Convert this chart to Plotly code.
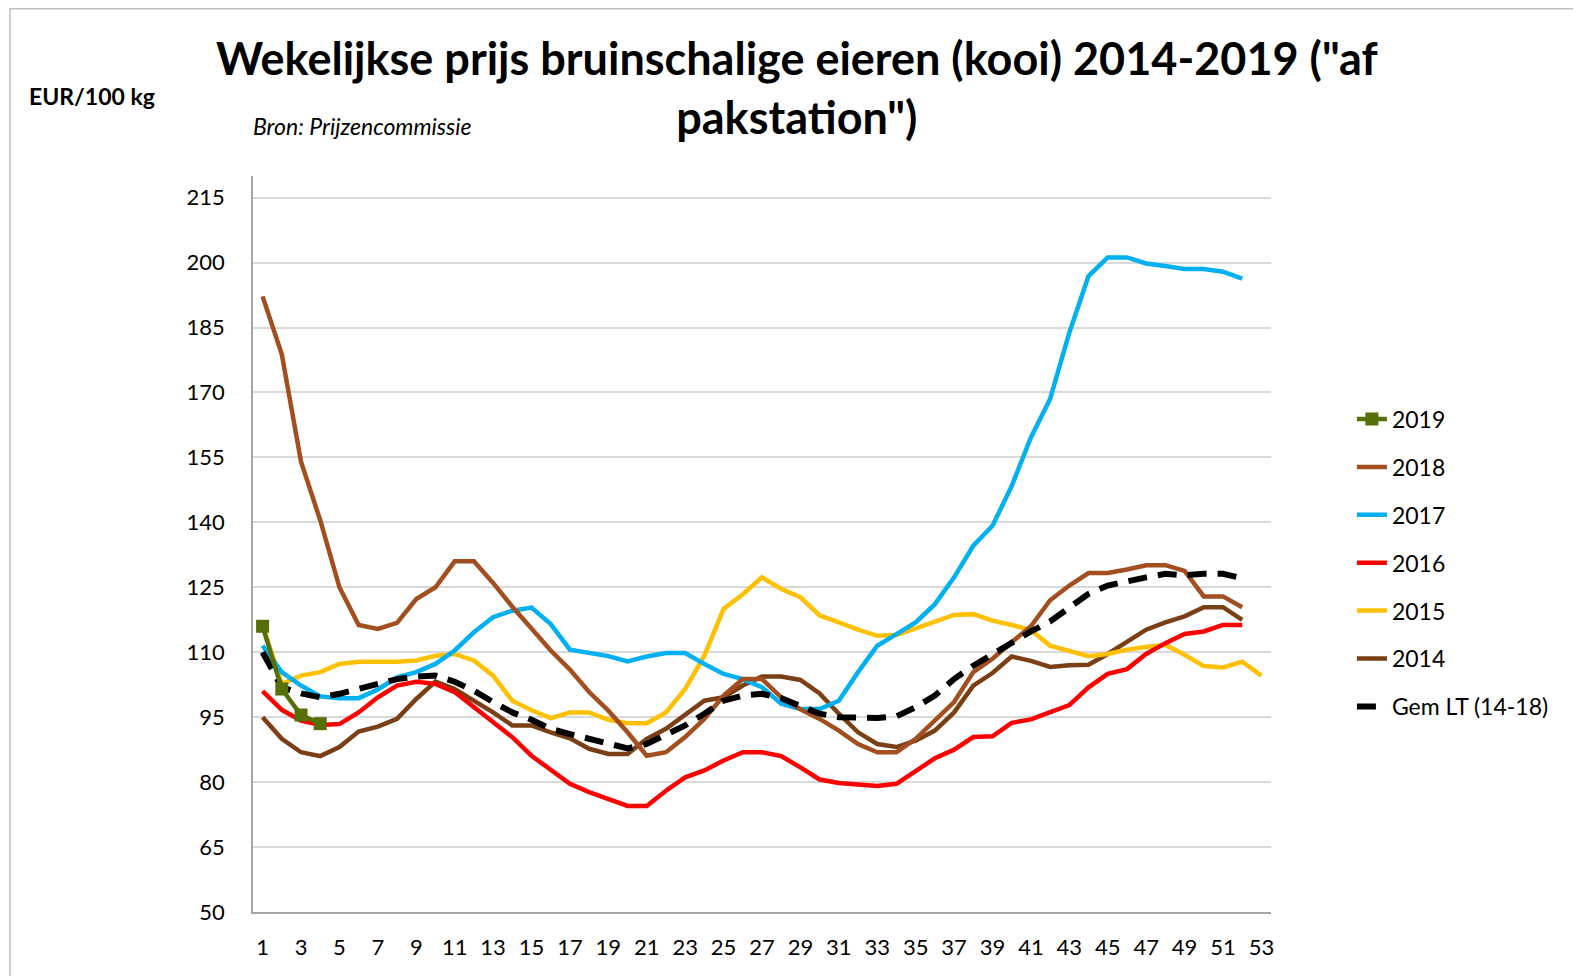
import plotly.graph_objects as go

weeks52 = list(range(1, 53))
weeks53 = list(range(1, 54))
weeks19 = [1, 2, 3, 4]

y2014 = [95, 90, 86.9, 86, 88.1, 91.7, 92.8, 94.6, 99.2, 103.2,
         101.5, 98.8, 96.1, 93.1, 93.1, 91.5, 90.1, 87.7, 86.5, 86.5,
         90, 92.3, 95.4, 98.8, 99.6, 102.3, 104.4, 104.4, 103.6, 100.5,
         95.8, 91.5, 88.8, 88.1, 89.6, 91.9, 96.1, 102.3, 105.2, 109,
         108, 106.6, 107, 107.1, 109.6, 112.3, 115.2, 116.9, 118.3, 120.4,
         120.4, 117.5]
y2015 = [116.3, 102.7, 104.6, 105.4, 107.3, 107.8, 107.8, 107.8, 108.1, 109.2,
         109.6, 108.1, 104.6, 98.8, 96.6, 94.8, 96.1, 96.1, 94.4, 93.6,
         93.6, 96.1, 101.5, 109.2, 120, 123.4, 127.3, 124.6, 122.7, 118.5,
         116.9, 115.2, 113.8, 114, 115.5, 117, 118.6, 118.8, 117.3, 116.3,
         115.1, 111.5, 110.4, 109.1, 109.6, 110.6, 111.2, 111.7, 109.4, 106.8,
         106.5, 107.8, 104.6]
y2016 = [101, 96.7, 94.2, 93.2, 93.4, 96.1, 99.6, 102.3, 103.2, 102.7,
         100.8, 97.3, 94, 90.4, 86.1, 83, 79.6, 77.7, 76, 74.5,
         74.5, 78, 81.1, 82.7, 85, 86.9, 86.9, 86, 83.4, 80.6,
         79.8, 79.4, 79.1, 79.6, 82.7, 85.5, 87.5, 90.4, 90.6, 93.7,
         94.5, 96.2, 97.8, 101.9, 105, 106.1, 109.6, 112.1, 114.2, 114.8,
         116.3, 116.3]
y2017 = [111.5, 105.4, 102.3, 99.8, 99.4, 99.4, 101.4, 104.2, 105.4, 107.3,
         110.4, 114.6, 118.1, 119.6, 120.3, 116.5, 110.6, 109.8, 109.1, 107.9,
         109, 109.8, 109.8, 107.3, 105, 103.8, 101.9, 98.1, 96.9, 96.9,
         98.8, 105.4, 111.5, 114.2, 116.9, 121.1, 127.3, 134.6, 139.2, 148.4,
         159.6, 168.5, 183.8, 196.9, 201.2, 201.2, 199.8, 199.2, 198.5, 198.5,
         197.9, 196.3]
y2018 = [192.2, 178.8, 154, 140.5, 125, 116.3, 115.4, 116.8, 122.3, 125,
         131, 131, 126, 120.5, 115.5, 110.4, 106, 100.8, 96.5, 91.5,
         86.1, 86.9, 90.4, 94.6, 100, 103.8, 103.8, 99.6, 96.8, 94.6,
         91.9, 88.8, 86.9, 86.9, 90, 94.2, 98.5, 105.4, 108.5, 112.3,
         116, 122, 125.4, 128.3, 128.3, 129.1, 130.1, 130.1, 128.8, 122.9,
         122.9, 120.4]
y2019 = [116, 101.5, 95.5, 93.5]
ygem = [110, 101.9, 100.5, 99.6, 100.4, 101.5, 102.7, 103.8, 104.4, 104.6,
        103.2, 101.1, 98.5, 96.1, 94.4, 92.3, 91.1, 90, 88.8, 87.8,
        88.8, 90.8, 93.1, 95.8, 98.8, 100, 100.4, 99.4, 97.7, 95.8,
        95, 94.8, 94.8, 95.2, 97.3, 100, 103.8, 106.9, 109.6, 112.3,
        114.8, 117.1, 120.4, 123.5, 125.4, 126.5, 127.3, 128.1, 127.8, 128.1,
        128.1, 127.1]

xticks = list(range(1, 54, 2))
yticks = list(range(50, 216, 15))

FONT = "Lato"

# figure geometry (page body has an 8px default margin)
W, H = 1573, 968
L, R, T, B = 245, 310, 168, 64
PW, PH = W - L - R, H - T - B


def px(xfig):
    return (xfig - L) / PW


def py(yfig):
    return 1 + (T - yfig) / PH


fig = go.Figure()

series = [
    ("2014", weeks52, y2014, "#7B3F16", 6),
    ("2015", weeks53, y2015, "#FFC000", 5),
    ("2016", weeks52, y2016, "#FF0000", 4),
    ("2017", weeks52, y2017, "#00B0F0", 3),
    ("2018", weeks52, y2018, "#A34E1F", 2),
]
for name, xs, ys, col, rank in series:
    fig.add_trace(go.Scatter(x=xs, y=ys, name=name, mode="lines",
                             line=dict(color=col, width=4.5),
                             legendgroup=name, legendrank=rank))

fig.add_trace(go.Scatter(x=weeks52, y=ygem, name="Gem LT (14-18)", mode="lines",
                         line=dict(color="#000000", width=6, dash="19px,11px"),
                         legendgroup="gem", legendrank=7))
fig.add_trace(go.Scatter(x=weeks19, y=y2019, name="2019", mode="lines+markers",
                         line=dict(color="#55700A", width=4.5),
                         marker=dict(symbol="square", size=13, color="#55700A"),
                         legendgroup="2019", legendrank=1))

fig.update_layout(
    width=W, height=H,
    paper_bgcolor="white", plot_bgcolor="white",
    margin=dict(l=L, r=R, t=T, b=B, autoexpand=False),
    font=dict(family=FONT, size=22, color="#000000"),
    showlegend=True,
    legend=dict(x=1.0795, xanchor="left", y=0.699, yanchor="top",
                font=dict(family=FONT, size=23, color="#000000"),
                tracegroupgap=15, bgcolor="rgba(0,0,0,0)",
                traceorder="grouped"),
    xaxis=dict(range=[0.5, 53.5], tickvals=xticks, ticktext=[str(t) for t in xticks],
               showgrid=False, zeroline=False, showline=True, linecolor="#A6A6A6", linewidth=1.5,
               ticks="outside", ticklen=15, tickcolor="rgba(0,0,0,0)",
               tickfont=dict(family=FONT, size=22)),
    yaxis=dict(range=[50, 220], tickvals=yticks, ticktext=[str(t) for t in yticks],
               showgrid=True, gridcolor="#D9D9D9", gridwidth=1.5, zeroline=False,
               showline=True, linecolor="#A6A6A6", linewidth=1.5,
               ticks="outside", ticklen=22, tickcolor="rgba(0,0,0,0)",
               tickfont=dict(family=FONT, size=22)),
)

fig.add_annotation(text='<b>Wekelijkse prijs bruinschalige eieren (kooi) 2014-2019 ("af<br>pakstation")</b>',
                   xref="paper", yref="paper", x=px(789), xanchor="center",
                   y=py(79), yanchor="middle", showarrow=False,
                   font=dict(family=FONT, size=45, color="#000000"))
fig.add_annotation(text="<b>EUR/100 kg</b>", xref="paper", yref="paper",
                   x=px(19), xanchor="left", y=py(88), yanchor="middle",
                   showarrow=False, font=dict(family=FONT, size=23, color="#000000"))
fig.add_annotation(text="<i>Bron: Prijzencommissie</i>", xref="paper", yref="paper",
                   x=px(243), xanchor="left", y=py(118), yanchor="middle",
                   showarrow=False, font=dict(family=FONT, size=23, color="#000000"))

# outer chart border
fig.add_shape(type="rect", xref="paper", yref="paper",
              x0=px(2), x1=px(W + 20), y0=py(H + 20), y1=py(0.8),
              line=dict(color="#BFBFBF", width=1.5), fillcolor="rgba(0,0,0,0)", layer="below")

fig.write_html("out.html")
